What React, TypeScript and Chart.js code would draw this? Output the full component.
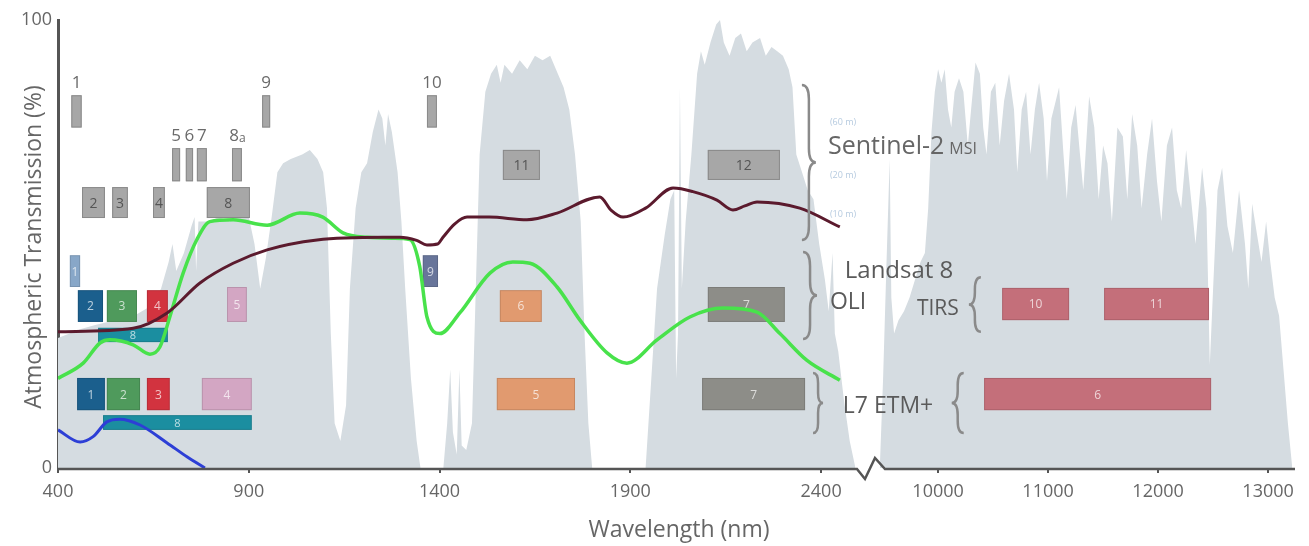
import React, { useEffect, useRef } from "react";
import { Chart, registerables } from "chart.js";
Chart.register(...registerables);

// ---------- axis ----------
const xTickNm = [400, 900, 1400, 1900, 2400, 10000, 11000, 12000, 13000];
const yTickVals = [0, 100];

// ---------- atmospheric transmission (%) ----------
const atmNmA = [400, 430, 460, 500, 550, 600, 640, 670, 690, 700, 710, 730, 750, 758, 762, 768, 800, 820, 850, 880, 900, 915, 930, 945, 960, 975, 990, 1010, 1040, 1060, 1080, 1095, 1105, 1115, 1125, 1140, 1155, 1165, 1180, 1195, 1210, 1225, 1240, 1250, 1258, 1265, 1275, 1290, 1300, 1310, 1325, 1340, 1350, 1410, 1420, 1428, 1435, 1445, 1452, 1458, 1470, 1485, 1495, 1505, 1520, 1535, 1550, 1560, 1570, 1590, 1610, 1630, 1650, 1670, 1690, 1710, 1725, 1740, 1755, 1770, 1780, 1790, 1800, 1940, 1955, 1970, 1990, 2005, 2015, 2020, 2025, 2030, 2035, 2045, 2060, 2075, 2085, 2095, 2110, 2125, 2135, 2145, 2160, 2175, 2190, 2205, 2220, 2240, 2255, 2270, 2285, 2300, 2315, 2325, 2335, 2350, 2365, 2380, 2395, 2410, 2420, 2430, 2436, 2445, 2460, 2475, 2490];
const atmValA = [29, 30, 31, 32, 33, 34, 36, 40, 46, 50, 44, 48, 54, 56, 44, 55, 55, 56, 55, 57, 56, 50, 40, 47, 56, 66, 68, 69, 70, 71, 69, 66, 58, 30, 10, 6, 14, 40, 58, 66, 68, 75, 80, 78, 72, 79, 75, 66, 55, 40, 20, 6, 0, 0, 10, 22, 8, 3, 22, 5, 4, 10, 40, 70, 84, 88, 90, 86, 90, 88, 91, 89, 92, 91, 92, 88, 85, 80, 70, 55, 30, 10, 0, 0, 20, 40, 52, 60, 62, 20, 30, 85, 40, 55, 70, 88, 93, 90, 95, 99, 100, 95, 92, 96, 97, 93, 95, 96, 92, 94, 93, 92, 89, 85, 70, 66, 62, 60, 50, 42, 35, 48, 30, 26, 15, 6, 0];
const atmNmB = [9470, 9500, 9530, 9560, 9575, 9600, 9640, 9690, 9740, 9790, 9840, 9880, 9910, 9940, 9970, 10000, 10030, 10060, 10090, 10120, 10150, 10190, 10230, 10270, 10300, 10340, 10380, 10410, 10440, 10480, 10520, 10560, 10600, 10645, 10690, 10720, 10760, 10800, 10840, 10880, 10918, 10960, 10990, 11030, 11070, 11100, 11140, 11170, 11210, 11250, 11290, 11320, 11373, 11420, 11460, 11500, 11540, 11580, 11630, 11680, 11720, 11764, 11810, 11850, 11900, 11945, 11990, 12030, 12080, 12127, 12170, 12210, 12255, 12300, 12340, 12400, 12440, 12470, 12500, 12540, 12582, 12630, 12680, 12736, 12790, 12820, 12855, 12900, 12940, 12982, 13020, 13060, 13100, 13140, 13180, 13220];
const atmValB = [0, 20, 45, 69, 38, 30, 33, 35, 38, 42, 46, 48, 58, 75, 84, 89, 86, 89, 80, 76, 84, 87, 84, 72, 80, 90.5, 88, 76, 70, 84, 86, 72, 82, 88, 80, 66, 80, 84, 70, 80, 86, 78, 64, 78, 82, 85, 70, 60, 76, 81, 70, 62, 83, 76, 60, 72, 68, 55, 76, 74, 60, 79, 72, 58, 70, 78, 64, 55, 72, 76, 62, 58, 71, 60, 50, 67, 58, 23, 40, 62, 67, 54, 48, 62, 50, 40, 59, 52, 46, 55, 46, 38, 34, 22, 10, 0];

// ---------- reflectance curves ----------
const vegNm = [400, 466, 510, 536, 597, 641, 667, 693, 728, 764, 798, 859, 948, 1034, 1094, 1147, 1210, 1280, 1322, 1348, 1367, 1401, 1453, 1532, 1592, 1637, 1708, 1768, 1839, 1891, 1970, 2056, 2143, 2232, 2292, 2363, 2449];
const vegVal = [20, 23.4, 27.9, 28.6, 27.5, 25.4, 27, 33.7, 43.5, 51, 55, 55.4, 54.2, 56.9, 56, 52.5, 51.5, 51.3, 51, 45, 33.7, 30, 34.6, 43.5, 46, 45.7, 40.4, 33, 25.7, 23.4, 28.6, 33.7, 35.7, 34.8, 30, 24, 19.6];
const soilNm = [400, 597, 686, 772, 859, 948, 1079, 1252, 1296, 1340, 1367, 1395, 1409, 1440, 1472, 1530, 1629, 1708, 1820, 1850, 1881, 1940, 2012, 2064, 2127, 2169, 2200, 2232, 2344, 2449];
const soilVal = [30.4, 31.2, 34.6, 41.3, 45.7, 48.7, 50.9, 51.5, 51.5, 50.8, 49.8, 50, 51.5, 54.5, 56, 56, 55.4, 56.9, 60.5, 57.5, 56, 58, 62.5, 61.7, 59.8, 57.6, 58.5, 59.4, 58, 53.8];
const waterNm = [400, 458, 492, 528, 562, 615, 686, 738, 785];
const waterVal = [8.5, 5.8, 7, 10.3, 10.9, 9.6, 5.6, 2.5, 0];

// ---------- sensor bands: [label, start nm, end nm, low %, high %, kind] ----------
type Band = [string, number, number, number, number, string];
const sentinelBands: Band[] = [
  ["1", 435, 462, 76, 83.2, "s2top"],
  ["9", 935, 956, 76, 83.2, "s2top"],
  ["10", 1367, 1393, 76, 83.2, "s2top"],
  ["5", 699, 720, 64, 71.4, "s2top"],
  ["6", 735, 754, 64, 71.4, "s2top"],
  ["7", 764, 790, 64, 71.4, "s2top"],
  ["8a", 856, 882, 64, 71.4, "s2top"],
  ["2", 463, 523, 55.8, 62.7, "s2"],
  ["3", 542, 583, 55.8, 62.7, "s2"],
  ["4", 649, 680, 55.8, 62.7, "s2"],
  ["8", 790, 903, 55.8, 62.7, "s2"],
  ["11", 1566, 1663, 64.3, 71, "s2"],
  ["12", 2103, 2292, 64.3, 71, "s2"],
];
const oliBands: Band[] = [
  ["1", 431, 458, 40.4, 47.5, "coastal"],
  ["2", 452, 518, 32.6, 39.7, "blue"],
  ["3", 528, 607, 32.6, 39.7, "green"],
  ["4", 633, 688, 32.6, 39.7, "red"],
  ["8", 505, 688, 28.1, 31.3, "pan"],
  ["5", 843, 895, 32.6, 40.4, "nir"],
  ["9", 1356, 1396, 40.4, 47.5, "cirrus"],
  ["6", 1558, 1668, 32.6, 39.7, "swir1"],
  ["7", 2103, 2305, 32.6, 40.4, "swir2"],
  ["10", 10582, 11191, 33, 40.2, "tir"],
  ["11", 11509, 12463, 33, 40.2, "tir"],
];
const etmBands: Band[] = [
  ["1", 450, 523, 12.9, 20.1, "blue"],
  ["2", 528, 615, 12.9, 20.1, "green"],
  ["3", 633, 693, 12.9, 20.1, "red"],
  ["4", 777, 908, 12.9, 20.1, "nir"],
  ["8", 518, 908, 8.5, 11.8, "pan"],
  ["5", 1550, 1755, 12.9, 20.1, "swir1"],
  ["7", 2088, 2358, 12.9, 20.1, "swir2"],
  ["6", 10418, 12482, 12.9, 20.1, "tir"],
];

// ---------- styles ----------
const FONT = '"Open Sans", "Noto Sans", sans-serif';
const bandFill: Record<string, string> = {
  s2: "#a7a7a7",
  s2top: "#a7a7a7",
  coastal: "#88a7c8",
  blue: "#1b5f8d",
  green: "#4f9a5c",
  red: "#d2333f",
  pan: "#1b8ea0",
  nir: "#d3a6c3",
  cirrus: "#68759a",
  swir1: "#e19a6f",
  swir2: "#8d8d88",
  tir: "#c46f7a",
};

// piecewise axis: 400-2600 nm linear, then compressed thermal section
const toU = (nm: number) => (nm < 5000 ? nm : 2706.6 + (nm - 10000) * 0.2883);

function drawBrace(ctx: CanvasRenderingContext2D, x: number, y1: number, y2: number, w: number, dir: number) {
  const ym = (y1 + y2) / 2;
  const r = Math.min(w, (y2 - y1) / 4);
  ctx.beginPath();
  ctx.moveTo(x - (dir * w) / 2, y1);
  ctx.quadraticCurveTo(x, y1, x, y1 + r);
  ctx.lineTo(x, ym - r);
  ctx.quadraticCurveTo(x, ym, x + (dir * w) / 2, ym);
  ctx.quadraticCurveTo(x, ym, x, ym + r);
  ctx.lineTo(x, y2 - r);
  ctx.quadraticCurveTo(x, y2, x - (dir * w) / 2, y2);
  ctx.stroke();
}

const overlayPlugin = {
  id: "overlay",
  afterDatasetDraw(chart: any, args: any) {
    if (args.index !== 0) return;
    const ctx: CanvasRenderingContext2D = chart.ctx;
    const xs = chart.scales.x;
    const ys = chart.scales.y;
    ctx.save();
    const drawSet = (bands: Band[]) => {
      bands.forEach((b) => {
        const x1 = xs.getPixelForValue(toU(b[1]));
        const x2 = xs.getPixelForValue(toU(b[2]));
        const y1 = ys.getPixelForValue(b[4]);
        const y2 = ys.getPixelForValue(b[3]);
        const kind = b[5];
        ctx.fillStyle = bandFill[kind];
        ctx.fillRect(x1, y1, x2 - x1, y2 - y1);
        ctx.strokeStyle = kind.startsWith("s2") ? "#8a8a8a" : "rgba(0,0,0,0.12)";
        ctx.lineWidth = 1;
        ctx.strokeRect(x1 + 0.5, y1 + 0.5, x2 - x1 - 1, y2 - y1 - 1);
        const cx = (x1 + x2) / 2;
        const cy = (y1 + y2) / 2;
        ctx.textAlign = "center";
        ctx.textBaseline = "middle";
        if (kind === "s2top") {
          ctx.fillStyle = "#6a6a6a";
          if (b[0] === "8a") {
            ctx.font = `17px ${FONT}`;
            ctx.textAlign = "right";
            ctx.fillText("8", cx + 2, y1 - 12);
            ctx.font = `12px ${FONT}`;
            ctx.textAlign = "left";
            ctx.fillText("a", cx + 2, y1 - 10);
          } else {
            ctx.font = `17px ${FONT}`;
            ctx.fillText(b[0], cx, y1 - 12);
          }
        } else if (kind === "s2") {
          ctx.fillStyle = "#555";
          ctx.font = `14px ${FONT}`;
          ctx.fillText(b[0], cx, cy + 1);
        } else {
          ctx.fillStyle = "rgba(255,255,255,0.7)";
          ctx.font = `${kind === "pan" ? 11 : 12}px ${FONT}`;
          ctx.fillText(b[0], cx, cy + 1);
        }
      });
    };
    drawSet(sentinelBands);
    drawSet(oliBands);
    drawSet(etmBands);
    ctx.restore();
  },
  afterDraw(chart: any) {
    const ctx: CanvasRenderingContext2D = chart.ctx;
    const xs = chart.scales.x;
    const ys = chart.scales.y;
    const ca = chart.chartArea;
    const X = (u: number) => xs.getPixelForValue(u);
    const Y = (v: number) => ys.getPixelForValue(v);
    ctx.save();
    // x axis line with break
    const yb = ca.bottom + 1;
    const b0 = X(2494);
    ctx.strokeStyle = "#555";
    ctx.lineWidth = 2.5;
    ctx.lineJoin = "miter";
    ctx.beginPath();
    ctx.moveTo(ca.left, yb);
    ctx.lineTo(b0, yb);
    ctx.lineTo(b0 + 8, yb + 10);
    ctx.lineTo(b0 + 18, yb - 11);
    ctx.lineTo(b0 + 28, yb);
    ctx.lineTo(ca.right, yb);
    ctx.stroke();

    // titles
    ctx.fillStyle = "#666";
    ctx.font = `23px ${FONT}`;
    ctx.textAlign = "center";
    ctx.textBaseline = "middle";
    ctx.fillText("Wavelength (nm)", 679, 530);
    ctx.save();
    ctx.translate(34, 247);
    ctx.rotate(-Math.PI / 2);
    ctx.fillText("Atmospheric Transmission (%)", 0, 0);
    ctx.restore();

    // braces
    ctx.strokeStyle = "#8a8a8a";
    ctx.lineWidth = 2.5;
    drawBrace(ctx, X(2368), Y(85.5), Y(50.9), 14, 1);
    drawBrace(ctx, X(2371), Y(48.2), Y(28.8), 14, 1);
    drawBrace(ctx, X(2392), Y(21.2), Y(7.8), 10, 1);
    drawBrace(ctx, X(2803), Y(42.6), Y(30.4), 12, -1);
    drawBrace(ctx, X(2758), Y(21.2), Y(7.8), 12, -1);

    // sensor names
    ctx.textAlign = "left";
    ctx.textBaseline = "alphabetic";
    ctx.fillStyle = "#666";
    ctx.font = `25px ${FONT}`;
    ctx.fillText("Sentinel-2", X(2418), Y(70));
    const w = ctx.measureText("Sentinel-2").width;
    ctx.font = `16px ${FONT}`;
    ctx.fillText("MSI", X(2418) + w + 5, Y(70));
    ctx.fillStyle = "#5a5a5a";
    ctx.font = `24px ${FONT}`;
    ctx.fillText("Landsat 8", X(2462), Y(42.4));
    ctx.font = `23px ${FONT}`;
    ctx.fillText("OLI", X(2423), Y(35.5));
    ctx.fillText("L7 ETM+", X(2457), Y(12.3));
    ctx.font = `21px ${FONT}`;
    ctx.fillText("TIRS", X(2651), Y(34.2));

    ctx.fillStyle = "rgba(150,180,210,0.7)";
    ctx.font = `9px ${FONT}`;
    ctx.textBaseline = "middle";
    ctx.fillText("(60 m)", X(2423), Y(77.2));
    ctx.fillText("(20 m)", X(2423), Y(65.4));
    ctx.fillText("(10 m)", X(2423), Y(56.5));
    ctx.restore();
  },
};

export default function App() {
  const ref = useRef<HTMLCanvasElement>(null);
  useEffect(() => {
    const canvas = ref.current;
    if (!canvas) return;
    const pts = (nm: number[], val: number[]) => nm.map((n, i) => ({ x: toU(n), y: val[i] }));
    const atm: any[] = [...pts(atmNmA, atmValA), { x: 2520, y: null }, ...pts(atmNmB, atmValB)];
    const lineDs = (label: string, data: any[], color: string, width: number) => ({
      label,
      data,
      borderColor: color,
      borderWidth: width,
      pointRadius: 0,
      fill: false,
      tension: 0.4,
      cubicInterpolationMode: "monotone" as const,
      order: 1,
    });
    const chart = new Chart(canvas, {
      type: "line",
      data: {
        datasets: [
          {
            label: "Atmosphere",
            data: atm,
            fill: "origin",
            backgroundColor: "#d5dce1",
            borderColor: "#d5dce1",
            borderWidth: 0,
            pointRadius: 0,
            tension: 0,
            spanGaps: false,
            order: 5,
          } as any,
          lineDs("Water", pts(waterNm, waterVal), "#2d3fd6", 3),
          lineDs("Soil", pts(soilNm, soilVal), "#5b1a2d", 3),
          lineDs("Vegetation", pts(vegNm, vegVal), "#48e24b", 3.5),
        ],
      },
      options: {
        responsive: false,
        animation: false,
        layout: { padding: { top: 20, right: 14, left: 0, bottom: 0 } },
        plugins: { legend: { display: false }, tooltip: { enabled: false } },
        scales: {
          x: {
            type: "linear",
            min: 400,
            max: 3642,
            afterBuildTicks: (s: any) => {
              s.ticks = xTickNm.map((n) => ({ value: toU(n) }));
            },
            afterFit: (s: any) => {
              s.height = 78;
            },
            ticks: {
              autoSkip: false,
              maxRotation: 0,
              padding: 8,
              color: "#666",
              font: { family: FONT, size: 18 },
              callback: (v: any) => {
                const i = xTickNm.findIndex((n) => Math.abs(toU(n) - Number(v)) < 0.5);
                return i >= 0 ? String(xTickNm[i]) : "";
              },
            },
            grid: { display: true, drawOnChartArea: false, drawTicks: true, tickLength: 5, color: "#555", lineWidth: 2 },
            border: { display: false },
          },
          y: {
            min: 0,
            max: 100,
            z: 1,
            afterBuildTicks: (s: any) => {
              s.ticks = yTickVals.map((v) => ({ value: v }));
            },
            afterFit: (s: any) => {
              s.width = 58;
            },
            ticks: { padding: 6, color: "#666", font: { family: FONT, size: 18 } },
            grid: { display: false, drawTicks: false },
            border: { display: true, dash: [4, 3], width: 3, color: "#555" },
          },
        },
      },
      plugins: [overlayPlugin],
    } as any);
    return () => chart.destroy();
  }, []);
  return (
    <div style={{ position: "fixed", left: 0, top: 0, width: 1309, height: 546, background: "#fff" }}>
      <canvas ref={ref} width={1309} height={546} style={{ display: "block" }} />
    </div>
  );
}
